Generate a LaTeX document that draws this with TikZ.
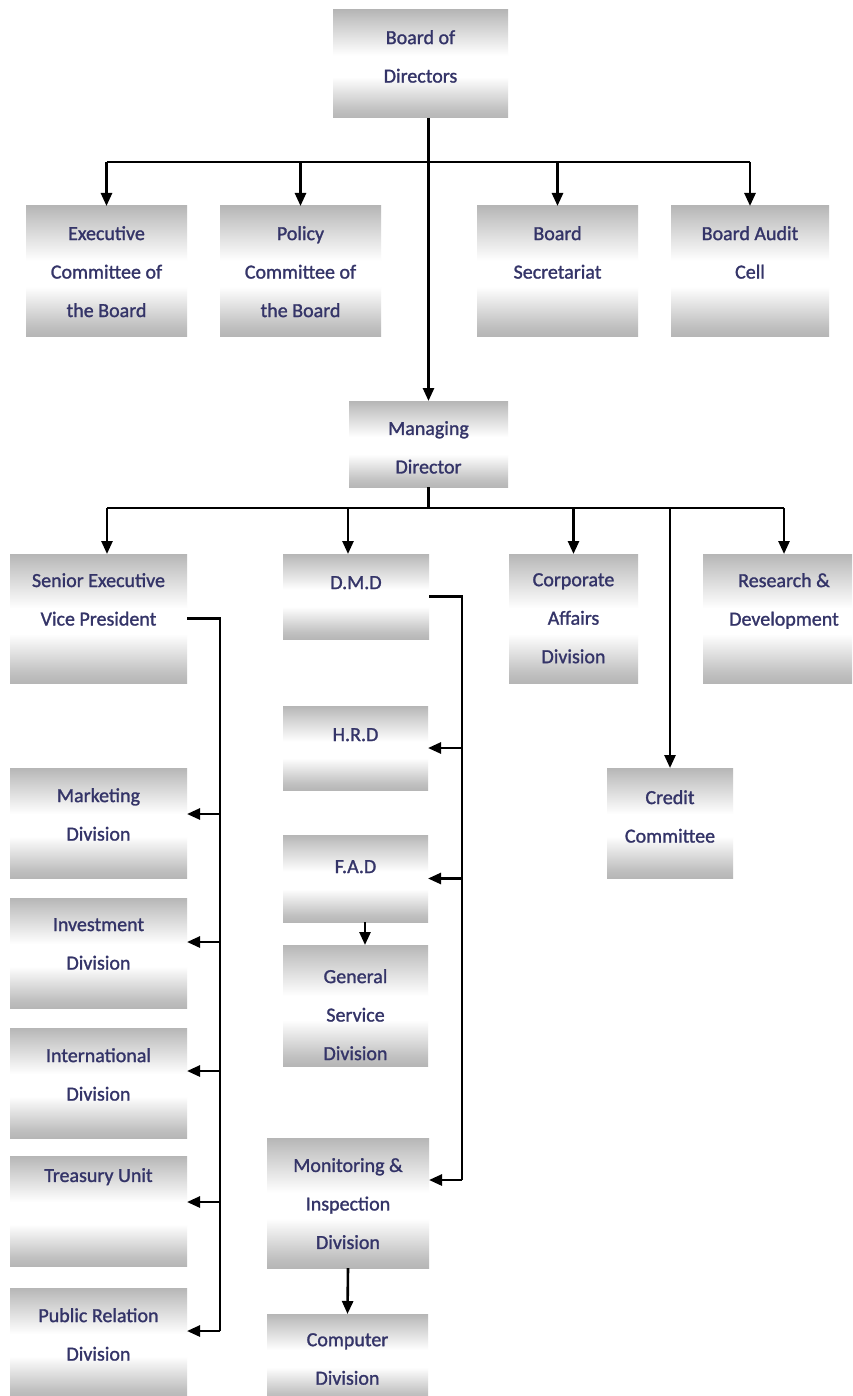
\documentclass[tikz,border=0pt]{standalone}
\usepackage{fontspec}
\setmainfont{Carlito}
\newfontfamily\boxfont{Carlito}[RawFeature={embolden=1.3}]
\usetikzlibrary{arrows.meta}
\definecolor{boxgray}{RGB}{182,182,182}
\definecolor{navytext}{RGB}{52,52,104}
% grey at top and bottom, fading to white just below the middle
\pgfdeclareverticalshading{boxshade}{100bp}{%
  color(0bp)=(boxgray); color(25bp)=(boxgray); color(29bp)=(boxgray!85);
  color(44bp)=(white); color(54bp)=(white); color(70bp)=(boxgray!75);
  color(75bp)=(boxgray); color(100bp)=(boxgray)}
\begin{document}
\begin{tikzpicture}[x=1pt,y=-1pt,
  box/.style={shade,shading=boxshade,inner sep=0pt,outer sep=0pt},
  sz/.style 2 args={minimum width=#1pt,minimum height=#2pt},
  lbl/.style={anchor=north,inner sep=0pt,align=center,text=navytext,
    font=\boxfont\fontsize{20}{38.5}\selectfont},
  link/.style={line width=2.6pt,black},
  arr/.style={link,-{Triangle[width=11pt,length=13pt]}}]

\fill[white] (0,0) rectangle (852,1396);
\clip (0,0) rectangle (852,1396);

% ---- board level
\node[box,sz={175}{108}] (board) at (420.5,64) {};
\node[lbl] (boardT) at ([yshift=-20pt]board.north) {Board of\\Directors};

\node[box,sz={161}{130}] (exec) at (106.5,271) {};
\node[lbl] (execT) at ([yshift=-20pt]exec.north) {Executive\\Committee of\\the Board};
\node[box,sz={161}{130}] (policy) at (300.5,271) {};
\node[lbl] (policyT) at ([yshift=-20pt]policy.north) {Policy\\Committee of\\the Board};
\node[box,sz={161}{130}] (secr) at (557.5,271) {};
\node[lbl] (secrT) at ([yshift=-20pt]secr.north) {Board\\Secretariat};
\node[box,sz={158}{130}] (audit) at (750,271) {};
\node[lbl] (auditT) at ([yshift=-20pt]audit.north) {Board Audit\\Cell};

\node[box,sz={159}{86}] (md) at (428.5,444) {};
\node[lbl] (mdT) at ([yshift=-20pt]md.north) {Managing\\Director};

% ---- managing director level
\node[box,sz={177}{129}] (sevp) at (98.5,618.5) {};
\node[lbl] (sevpT) at ([yshift=-19pt]sevp.north) {Senior Executive\\Vice President};
\node[box,sz={146}{85}] (dmd) at (356,596.5) {};
\node[lbl] (dmdT) at ([yshift=-22pt]dmd.north) {D.M.D};
\node[box,sz={129}{129}] (corp) at (573.5,618.5) {};
\node[lbl] (corpT) at ([yshift=-19pt]corp.north) {Corporate\\Affairs\\Division};
\node[box,sz={162}{129}] (rnd) at (784,618.5) {};
\node[lbl] (rndT) at ([yshift=-19pt]rnd.north) {Research \&\\Development};
\node[box,sz={126}{110}] (credit) at (670,823) {};
\node[lbl] (creditT) at ([yshift=-22pt]credit.north) {Credit\\Committee};

% ---- left column under the senior executive vice president
\node[box,sz={177}{110}] (mkt) at (98.5,823) {};
\node[lbl] (mktT) at ([yshift=-20pt]mkt.north) {Marketing\\Division};
\node[box,sz={177}{110}] (inv) at (98.5,953) {};
\node[lbl] (invT) at ([yshift=-20pt]inv.north) {Investment\\Division};
\node[box,sz={177}{110}] (intl) at (98.5,1083) {};
\node[lbl] (intlT) at ([yshift=-20pt]intl.north) {International\\Division};
\node[box,sz={177}{110}] (tres) at (98.5,1211) {};
\node[lbl] (tresT) at ([yshift=-12pt]tres.north) {Treasury Unit};
\node[box,sz={177}{110}] (pr) at (98.5,1343) {};
\node[lbl] (prT) at ([yshift=-20pt]pr.north) {Public Relation\\Division};

% ---- middle column under the deputy managing director
\node[box,sz={145}{84}] (hrd) at (355.5,748) {};
\node[lbl] (hrdT) at ([yshift=-22pt]hrd.north) {H.R.D};
\node[box,sz={145}{87}] (fad) at (355.5,878.5) {};
\node[lbl] (fadT) at ([yshift=-25pt]fad.north) {F.A.D};
\node[box,sz={145}{121}] (gsd) at (355.5,1005.5) {};
\node[lbl] (gsdT) at ([yshift=-24pt]gsd.north) {General\\Service\\Division};
\node[box,sz={162}{130}] (mon) at (348,1203) {};
\node[lbl] (monT) at ([yshift=-20pt]mon.north) {Monitoring \&\\Inspection\\Division};
\node[box,sz={161}{86}] (comp) at (347.5,1357) {};
\node[lbl] (compT) at ([yshift=-19pt]comp.north) {Computer\\Division};

% ---- bus lines
\coordinate (b1) at (0,162);
\coordinate (b2) at (0,508);
\coordinate (sv) at (220,0);
\coordinate (dv) at (462,0);

\draw[link] (exec.north |- b1) -- (audit.north |- b1);
\foreach \n in {exec,policy,secr,audit}
  \draw[arr] (\n.north |- b1) -- (\n.north);
\draw[arr] (board.south -| md.north) -- (md.north);

\coordinate (sevpA) at ([xshift=8.5pt]sevp.north);
\coordinate (dmdA) at ([xshift=-8pt]dmd.north);
\draw[link] (md.south) -- (md.south |- b2);
\draw[link] (sevpA |- b2) -- (rnd.north |- b2);
\draw[arr] (sevpA |- b2) -- (sevpA);
\draw[arr] (dmdA |- b2) -- (dmdA);
\draw[arr] (corp.north |- b2) -- (corp.north);
\draw[arr] (rnd.north |- b2) -- (rnd.north);
\draw[arr] (credit.north |- b2) -- (credit.north);

% senior executive vice president branch
\coordinate (mktA) at ([yshift=9pt]mkt.east);
\coordinate (invA) at ([yshift=11pt]inv.east);
\coordinate (intlA) at ([yshift=12pt]intl.east);
\coordinate (tresA) at ([yshift=9pt]tres.east);
\coordinate (prA) at ([yshift=12pt]pr.east);
\draw[link] (sevp.east) -- (sevp.east -| sv) -- (sv |- prA);
\foreach \n in {mktA,invA,intlA,tresA,prA}
  \draw[arr] (sv |- \n) -- (\n);

% deputy managing director branch
\coordinate (monA) at ([yshift=23pt]mon.east);
\draw[link] (dmd.east) -- (dmd.east -| dv) -- (dv |- monA);
\foreach \n in {hrd.east,fad.east,monA}
  \draw[arr] (dv |- \n) -- (\n);
\draw[arr] ([xshift=9.5pt]fad.south) -- ([xshift=9.5pt]gsd.north);
\draw[arr] (mon.south) -- (comp.north);
\end{tikzpicture}
\end{document}
